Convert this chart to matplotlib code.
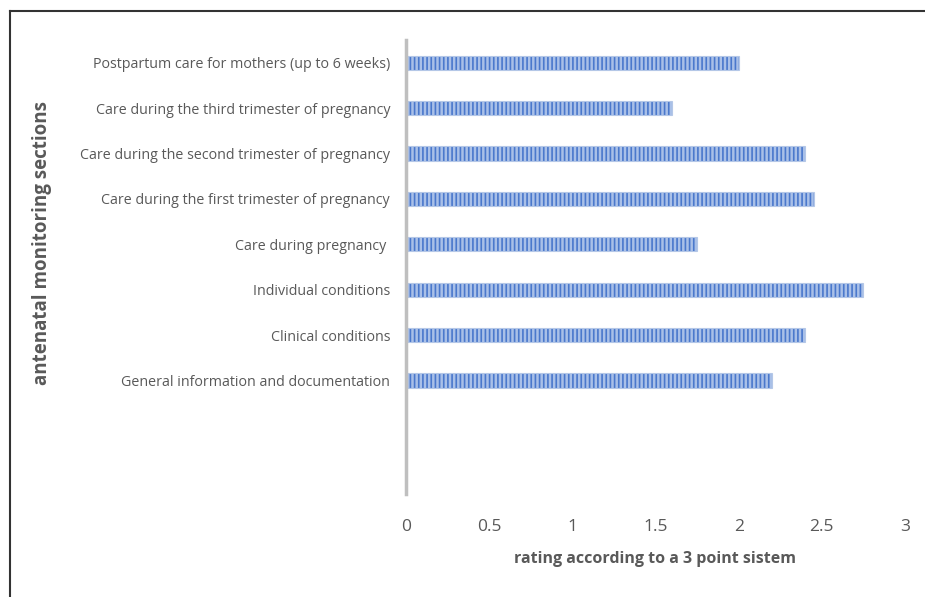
import matplotlib
matplotlib.use("Agg")
import matplotlib.pyplot as plt
from matplotlib.lines import Line2D
import numpy as np

categories = [
    "Postpartum care for mothers (up to 6 weeks)",
    "Care during the third trimester of pregnancy",
    "Care during the second trimester of pregnancy",
    "Care during the first trimester of pregnancy",
    "Care during pregnancy ",
    "Individual conditions",
    "Clinical conditions",
    "General information and documentation",
]
values = [2.0, 1.6, 2.4, 2.45, 1.75, 2.75, 2.4, 2.2]
xticks = [0, 0.5, 1, 1.5, 2, 2.5, 3]
xticklabels = ["0", "0.5", "1", "1.5", "2", "2.5", "3"]
empty_slots = 2

plt.rcParams['font.family'] = ['Open Sans', 'DejaVu Sans']
plt.rcParams['hatch.linewidth'] = 1.2

fig = plt.figure(figsize=(9.25, 5.97), dpi=100)
ax = fig.add_axes([406/925, 1-494/597, (905-406)/925, (494-40)/597])

y = np.arange(len(categories))
ax.barh(y, values, height=0.31, color='#A9C0E8', edgecolor='#4A78CC',
        hatch='||||', linewidth=0)
ax.barh(y, values, height=0.31, color='none', edgecolor='#B4C7E7', linewidth=0.8)

ax.set_xlim(0, 3)
ax.set_ylim(len(categories) - 0.5 + empty_slots, -0.5)
ax.set_yticks(y)
ax.set_yticklabels(categories, fontsize=10.3, color='#595959')
ax.set_xticks(xticks)
ax.set_xticklabels(xticklabels, fontsize=12.5, color='#595959')
ax.tick_params(axis='both', length=0)
ax.tick_params(axis='x', pad=18)
ax.tick_params(axis='y', pad=11.5)

for s in ['top', 'right', 'bottom']:
    ax.spines[s].set_visible(False)
ax.spines['left'].set_color('#BFBFBF')
ax.spines['left'].set_linewidth(2.5)

fig.text(655/925, 1-559/597, "rating according to a 3 point sistem",
         ha='center', va='center', fontsize=11.5, fontweight='bold', color='#595959')
fig.text(42/925, 1-243/597, "antenatal monitoring sections", rotation=90,
         ha='center', va='center', fontsize=13.5, fontweight='bold', color='#595959')

# figure frame (top and left edges visible)
fig.add_artist(Line2D([9.5/925, 9.5/925], [0, 1-11/597], transform=fig.transFigure,
                      color='#333333', linewidth=1.5))
fig.add_artist(Line2D([9.5/925, 1], [1-11/597, 1-11/597], transform=fig.transFigure,
                      color='#333333', linewidth=1.5))

fig.savefig("out.png", dpi=100)
